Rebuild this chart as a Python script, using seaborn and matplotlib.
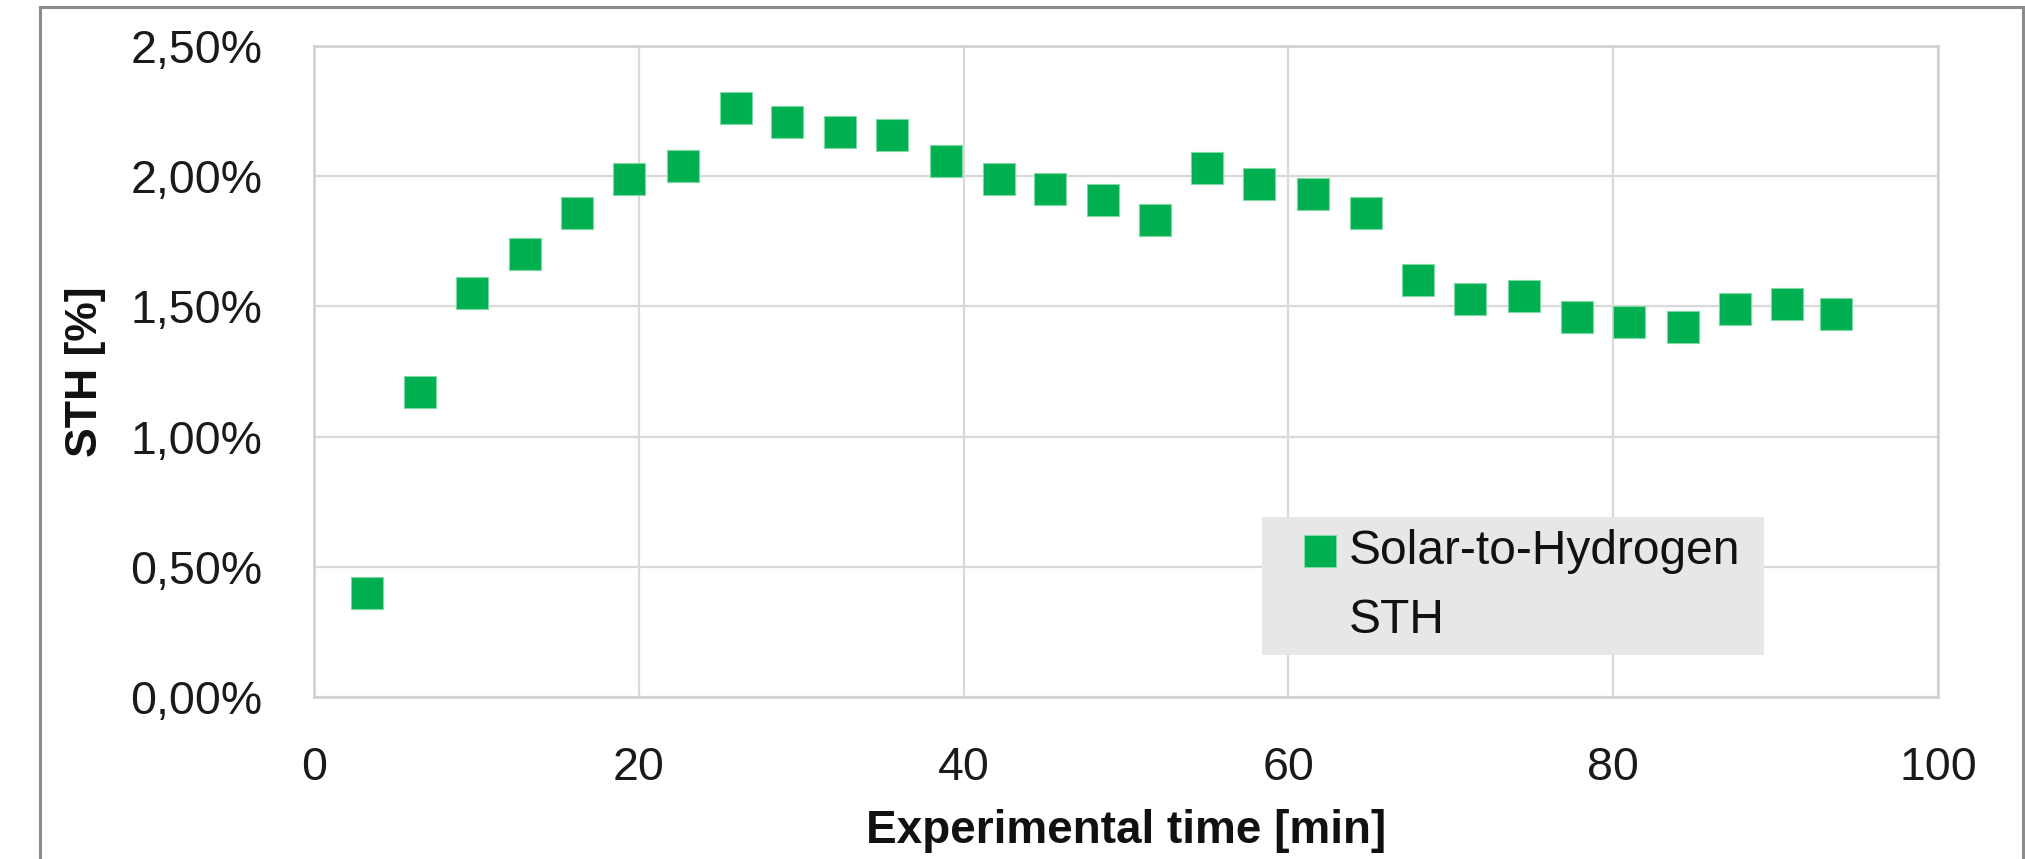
import matplotlib
matplotlib.use("Agg")
import matplotlib.pyplot as plt
import seaborn as sns
import pandas as pd
from matplotlib.lines import Line2D
from matplotlib.patches import Rectangle
from matplotlib.ticker import FuncFormatter

# ---- data ----
time_min = [3.25, 6.5, 9.7, 12.97, 16.2, 19.4, 22.7, 25.97, 29.1, 32.4,
            35.6, 38.9, 42.15, 45.3, 48.6, 51.8, 55.0, 58.2, 61.5, 64.8,
            68.0, 71.2, 74.5, 77.8, 81.0, 84.3, 87.5, 90.7, 93.7]
sth_pct = [0.40, 1.17, 1.55, 1.70, 1.86, 1.99, 2.04, 2.26, 2.21, 2.17,
           2.16, 2.06, 1.99, 1.95, 1.91, 1.83, 2.03, 1.97, 1.93, 1.86,
           1.60, 1.53, 1.54, 1.46, 1.44, 1.42, 1.49, 1.51, 1.47]
series_label = "Solar-to-Hydrogen"
series_label2 = "STH"
x_ticks = [0, 20, 40, 60, 80, 100]
y_ticks = [0.0, 0.5, 1.0, 1.5, 2.0, 2.5]
x_title = "Experimental time [min]"
y_title = "STH [%]"

df = pd.DataFrame({"time": time_min, "sth": sth_pct})

sns.set_theme(style="white")
plt.rcParams["font.family"] = ["Liberation Sans", "DejaVu Sans"]

W, H = 2025, 859
fig = plt.figure(figsize=(W / 100, H / 100), dpi=100)
ax = fig.add_axes([314 / W, 1 - 697 / H, 1624 / W, 651 / H])

green = "#00B050"
sns.scatterplot(data=df, x="time", y="sth", ax=ax, marker="s", s=500,
                color=green, edgecolor="#7ED9A6", linewidth=0.8, zorder=3,
                legend=False)

ax.set_xlim(0, 100)
ax.set_ylim(0, 2.5)
ax.set_xticks(x_ticks)
ax.set_yticks(y_ticks)
ax.yaxis.set_major_formatter(FuncFormatter(lambda v, p: f"{v:.2f}%".replace(".", ",")))
ax.xaxis.set_major_formatter(FuncFormatter(lambda v, p: f"{int(v)}"))

ax.grid(True, color="#D9D9D9", linewidth=1.6)
ax.set_axisbelow(True)
for s in ax.spines.values():
    s.set_color("#CFCFCF")
    s.set_linewidth(1.8)

ax.tick_params(axis="both", length=0, labelsize=33.5, colors="#1a1a1a")
ax.tick_params(axis="y", pad=37)
ax.tick_params(axis="x", pad=35)

ax.set_xlabel(x_title, fontsize=33, fontweight="bold", color="#111111")
ax.set_ylabel(y_title, fontsize=32, fontweight="bold", color="#111111")
ax.xaxis.set_label_coords(0.5, -0.172)
ax.yaxis.set_label_coords(-0.128, 0.5)

# legend
handle = ax.collections[0]
blank = Line2D([], [], linestyle="none", marker=None)
leg = ax.legend([handle, blank], [series_label, series_label2],
                loc="upper left", bbox_to_anchor=(0.584, 0.069, 0.309, 0.2075),
                mode="expand",
                fontsize=34.5, frameon=True, fancybox=False,
                facecolor="#E7E7E7", edgecolor="none", framealpha=1,
                handlelength=1.9, handletextpad=-0.35, labelspacing=0.5,
                borderpad=0.25, borderaxespad=0)
for t in leg.get_texts():
    t.set_color("#111111")

# chart-area border
fig.add_artist(Rectangle((40 / W, -0.05), (2023 - 40) / W, 1.05 - 7.5 / H,
                         transform=fig.transFigure, fill=False,
                         edgecolor="#8C8C8C", linewidth=2.2, clip_on=False))

fig.savefig("out.png", dpi=100, facecolor="white")
